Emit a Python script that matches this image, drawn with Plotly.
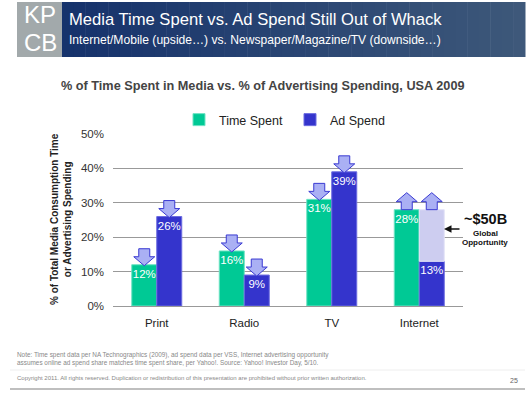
import plotly.graph_objects as go

# ---------------- data ----------------
categories = ["Print", "Radio", "TV", "Internet"]
time_spent = [12, 16, 31, 28]
ad_spend = [26, 9, 39, 13]
opportunity = [0, 0, 0, 15]          # gap between ad spend and time spent share (Internet)
time_arrow = ["down", "down", "down", "up"]
ad_arrow = ["down", "down", "down", "up"]
y_ticks = [0, 10, 20, 30, 40, 50]

# ---------------- geometry helpers ----------------
W, H = 531, 393
L, R, T, B = 113, 68, 134, 87
PW, PH = W - L - R, H - T - B


def px(x):
    return (x - L) / PW


def py(y):
    return (H - B - y) / PH


FONT = "Liberation Sans, Arial, sans-serif"
GREEN = "#00C995"
BLUE = "#3434CC"
LAV = "#CDCDF0"

fig = go.Figure()

fig.add_trace(go.Bar(
    x=categories, y=time_spent, name="Time Spent", offsetgroup="t",
    marker=dict(color=GREEN, line=dict(color="#6fe3c4", width=1)),
    text=[f"{v}%" for v in time_spent], textposition="inside", textangle=0,
    insidetextanchor="end", constraintext="none",
    textfont=dict(color="white", size=11.5, family=FONT),
))
fig.add_trace(go.Bar(
    x=categories, y=ad_spend, name="Ad Spend", offsetgroup="a",
    marker=dict(color=BLUE, line=dict(color="#6b6be0", width=1)),
    text=[f"{v}%" for v in ad_spend], textposition="inside", textangle=0,
    insidetextanchor="end", constraintext="none",
    textfont=dict(color="white", size=11.5, family=FONT),
))
opp_x = [c for c, o in zip(categories, opportunity) if o]
opp_y = [o for o in opportunity if o]
opp_b = [a for a, o in zip(ad_spend, opportunity) if o]
fig.add_trace(go.Bar(
    x=opp_x, y=opp_y, base=opp_b, offsetgroup="a", showlegend=False,
    marker=dict(color=LAV, line=dict(color="#e4e4f8", width=1)),
    hoverinfo="skip",
))

shapes = []

# header banner with gradient
n = 40
x0b, x1b = 62, 525
c0, c1 = (22, 51, 108), (62, 88, 122)
for k in range(n):
    t = k / (n - 1)
    col = tuple(int(c0[j] + (c1[j] - c0[j]) * t) for j in range(3))
    xa = x0b + (x1b - x0b) * k / n
    xb = x0b + (x1b - x0b) * (k + 1) / n + 0.5
    shapes.append(dict(type="rect", xref="paper", yref="paper",
                       x0=px(xa), x1=px(xb), y0=py(57), y1=py(2),
                       fillcolor="rgb(%d,%d,%d)" % col, line=dict(width=0),
                       layer="below"))
shapes.append(dict(type="rect", xref="paper", yref="paper",
                   x0=px(17), x1=px(62), y0=py(57), y1=py(2),
                   fillcolor="#a2a9ab", line=dict(width=0), layer="below"))

# footer lines
shapes.append(dict(type="line", xref="paper", yref="paper",
                   x0=px(10), x1=px(525), y0=py(370), y1=py(370),
                   line=dict(color="#eeeeee", width=1)))
shapes.append(dict(type="line", xref="paper", yref="paper",
                   x0=px(10), x1=px(525), y0=py(389), y1=py(389),
                   line=dict(color="#aaaaaa", width=1.5)))

# block arrows above bars
DOWN = "M0,-1 L-10.5,8 L-5.5,8 L-5.5,16 L5.5,16 L5.5,8 L10.5,8 Z"
UP = "M-5.5,0 L-5.5,8 L-10.5,8 L0,17 L10.5,8 L5.5,8 L5.5,0 Z"
half = 0.5 * (1 - 0.4286) / 2
for i, cat in enumerate(categories):
    tops = [(time_spent[i], time_arrow[i], -half),
            (ad_spend[i] + opportunity[i], ad_arrow[i], half)]
    for val, d, off in tops:
        shapes.append(dict(type="path", xref="x", yref="y",
                           xsizemode="pixel", ysizemode="pixel",
                           xanchor=i + off, yanchor=val,
                           path=DOWN if d == "down" else UP,
                           fillcolor="#aab0f4", line=dict(color="#3a3ad2", width=1)))

ann = []


def txt(text, x, y, size, color, xanchor="center", **kw):
    d = dict(text=text, x=px(x), y=py(y), xref="paper", yref="paper",
             xanchor=xanchor, yanchor="middle", showarrow=False,
             font=dict(size=size, color=color, family=FONT))
    d.update(kw)
    ann.append(d)


# header text
txt("KP", 40, 14, 24, "white")
txt("CB", 40, 43, 24, "white")
txt("Media Time Spent vs. Ad Spend Still Out of Whack", 67, 20, 16.6, "white", "left")
txt("Internet/Mobile (upside…) vs. Newspaper/Magazine/TV (downside…)", 67, 40, 12.1, "white", "left")
# chart title
txt("<b>% of Time Spent in Media vs. % of Advertising Spending, USA 2009</b>", 263, 86, 12.7, "#444444")
# y title
txt("<b>% of Total Media Consumption Time<br>or Advertising Spending</b>", 61, 219, 10, "#222222",
    textangle=-90)
# opportunity note
txt("<b>~$50B</b>", 485, 219, 14.5, "#111111")
txt("<b>Global</b>", 485, 233, 8, "#111111")
txt("<b>Opportunity</b>", 485, 242, 8, "#111111")
ann.append(dict(text="", x=px(444), y=py(229), xref="paper", yref="paper",
                showarrow=True, ax=17, ay=0, arrowhead=2, arrowsize=1,
                arrowwidth=1.5, arrowcolor="#111111"))
# footer
txt("Note: Time spent data per NA Technographics (2009), ad spend data per VSS, Internet advertising opportunity<br>"
    "assumes online ad spend share matches time spent share, per Yahoo!. Source: Yahoo! Investor Day, 5/10.",
    15, 358.5, 6.4, "#888888", "left", align="left")
txt("Copyright 2011. All rights reserved. Duplication or redistribution of this presentation are prohibited without prior written authorization.",
    15, 378, 6.0, "#888888", "left")
txt("25", 514, 380, 7, "#666666")

fig.update_layout(
    width=W, height=H,
    margin=dict(l=L, r=R, t=T, b=B, pad=0, autoexpand=False),
    paper_bgcolor="white", plot_bgcolor="white",
    font=dict(family=FONT, color="#222222"),
    barmode="group", bargap=0.4286, bargroupgap=0,
    showlegend=True,
    legend=dict(orientation="h", x=px(179), y=py(120), xanchor="left", yanchor="middle",
                font=dict(size=12.5, color="#222222", family=FONT),
                itemwidth=30, entrywidth=66, entrywidthmode="pixels",
                bgcolor="rgba(0,0,0,0)", traceorder="normal"),
    xaxis=dict(showgrid=False, showline=True, linecolor="#999999", linewidth=1,
               ticks="", tickfont=dict(size=11.5, color="#222222"),
               ticklabelstandoff=6),
    yaxis=dict(range=[0, 50], tickvals=y_ticks, ticktext=[f"{v}%" for v in y_ticks],
               showgrid=True, gridcolor="#999999", gridwidth=1, zeroline=False,
               showline=False, ticks="", tickfont=dict(size=11.5, color="#333333"),
               ticklabelstandoff=8),
    shapes=shapes, annotations=ann,
)

fig.write_html("out.html", config={"displayModeBar": False},
               post_script="document.body.style.margin='0px';")
